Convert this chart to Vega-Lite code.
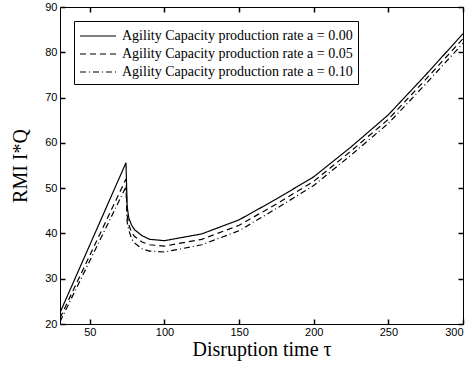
{
  "$schema": "https://vega.github.io/schema/vega-lite/v6.json",
  "width": 403,
  "height": 317,
  "padding": {"left": 60, "top": 7, "right": 10, "bottom": 44},
  "autosize": {"type": "none"},
  "background": "white",
  "config": {
    "view": {"stroke": "black", "strokeWidth": 1},
    "axis": {
      "domain": false,
      "ticks": true,
      "labelColor": "black",
      "titleColor": "black",
      "labelFont": "Liberation Sans",
      "labelFontSize": 11,
      "titleFont": "Liberation Serif",
      "titleFontSize": 20,
      "titleFontWeight": "normal",
      "grid": false
    },
    "axisTop": {"tickColor": "black", "tickWidth": 1.5, "tickSize": 5, "offset": -5},
    "axisBottom": {"tickColor": "black", "tickWidth": 1.5, "tickSize": 5, "offset": -5},
    "axisLeft": {"tickColor": "black", "tickWidth": 1.5, "tickSize": 5, "offset": -5},
    "axisRight": {"tickColor": "black", "tickWidth": 1.5, "tickSize": 5, "offset": -5},
    "legend": {
      "orient": "top-left",
      "offset": 14,
      "strokeColor": "black",
      "fillColor": "white",
      "padding": 5,
      "labelFont": "Liberation Serif",
      "labelFontSize": 14,
      "labelColor": "black",
      "symbolType": "M-1,0H3",
      "symbolStrokeColor": "black",
      "symbolStrokeWidth": 1.2,
      "symbolSize": 324,
      "labelOffset": 23,
      "rowPadding": 1,
      "labelLimit": 400
    }
  },
  "data": {
    "values": [
      {"t": 30, "v": 22.5, "s": "Agility Capacity production rate a = 0.00"},
      {"t": 74.2, "v": 55.6, "s": "Agility Capacity production rate a = 0.00"},
      {"t": 75, "v": 46.0, "s": "Agility Capacity production rate a = 0.00"},
      {"t": 76, "v": 43.5, "s": "Agility Capacity production rate a = 0.00"},
      {"t": 78, "v": 41.8, "s": "Agility Capacity production rate a = 0.00"},
      {"t": 80, "v": 40.8, "s": "Agility Capacity production rate a = 0.00"},
      {"t": 85, "v": 39.5, "s": "Agility Capacity production rate a = 0.00"},
      {"t": 90, "v": 38.7, "s": "Agility Capacity production rate a = 0.00"},
      {"t": 100, "v": 38.4, "s": "Agility Capacity production rate a = 0.00"},
      {"t": 125, "v": 39.9, "s": "Agility Capacity production rate a = 0.00"},
      {"t": 150, "v": 43.0, "s": "Agility Capacity production rate a = 0.00"},
      {"t": 175, "v": 47.6, "s": "Agility Capacity production rate a = 0.00"},
      {"t": 200, "v": 52.5, "s": "Agility Capacity production rate a = 0.00"},
      {"t": 225, "v": 59.1, "s": "Agility Capacity production rate a = 0.00"},
      {"t": 250, "v": 66.2, "s": "Agility Capacity production rate a = 0.00"},
      {"t": 275, "v": 75.0, "s": "Agility Capacity production rate a = 0.00"},
      {"t": 300, "v": 84.1, "s": "Agility Capacity production rate a = 0.00"},
      {"t": 30, "v": 21.3, "s": "Agility Capacity production rate a = 0.05"},
      {"t": 74.2, "v": 52.0, "s": "Agility Capacity production rate a = 0.05"},
      {"t": 75, "v": 44.0, "s": "Agility Capacity production rate a = 0.05"},
      {"t": 76, "v": 42.0, "s": "Agility Capacity production rate a = 0.05"},
      {"t": 78, "v": 40.2, "s": "Agility Capacity production rate a = 0.05"},
      {"t": 80, "v": 39.3, "s": "Agility Capacity production rate a = 0.05"},
      {"t": 85, "v": 38.1, "s": "Agility Capacity production rate a = 0.05"},
      {"t": 90, "v": 37.5, "s": "Agility Capacity production rate a = 0.05"},
      {"t": 100, "v": 37.2, "s": "Agility Capacity production rate a = 0.05"},
      {"t": 125, "v": 38.7, "s": "Agility Capacity production rate a = 0.05"},
      {"t": 150, "v": 41.8, "s": "Agility Capacity production rate a = 0.05"},
      {"t": 175, "v": 46.5, "s": "Agility Capacity production rate a = 0.05"},
      {"t": 200, "v": 51.5, "s": "Agility Capacity production rate a = 0.05"},
      {"t": 225, "v": 58.2, "s": "Agility Capacity production rate a = 0.05"},
      {"t": 250, "v": 65.2, "s": "Agility Capacity production rate a = 0.05"},
      {"t": 275, "v": 74.0, "s": "Agility Capacity production rate a = 0.05"},
      {"t": 300, "v": 83.0, "s": "Agility Capacity production rate a = 0.05"},
      {"t": 30, "v": 20.5, "s": "Agility Capacity production rate a = 0.10"},
      {"t": 74.2, "v": 50.3, "s": "Agility Capacity production rate a = 0.10"},
      {"t": 75, "v": 42.5, "s": "Agility Capacity production rate a = 0.10"},
      {"t": 76, "v": 40.8, "s": "Agility Capacity production rate a = 0.10"},
      {"t": 78, "v": 38.8, "s": "Agility Capacity production rate a = 0.10"},
      {"t": 80, "v": 37.9, "s": "Agility Capacity production rate a = 0.10"},
      {"t": 85, "v": 36.6, "s": "Agility Capacity production rate a = 0.10"},
      {"t": 90, "v": 36.1, "s": "Agility Capacity production rate a = 0.10"},
      {"t": 100, "v": 35.9, "s": "Agility Capacity production rate a = 0.10"},
      {"t": 125, "v": 37.5, "s": "Agility Capacity production rate a = 0.10"},
      {"t": 150, "v": 40.6, "s": "Agility Capacity production rate a = 0.10"},
      {"t": 175, "v": 45.5, "s": "Agility Capacity production rate a = 0.10"},
      {"t": 200, "v": 50.6, "s": "Agility Capacity production rate a = 0.10"},
      {"t": 225, "v": 57.3, "s": "Agility Capacity production rate a = 0.10"},
      {"t": 250, "v": 64.3, "s": "Agility Capacity production rate a = 0.10"},
      {"t": 275, "v": 73.0, "s": "Agility Capacity production rate a = 0.10"},
      {"t": 300, "v": 82.0, "s": "Agility Capacity production rate a = 0.10"}
    ]
  },
  "layer": [
    {
      "mark": {"type": "line", "color": "black", "strokeWidth": 1.2, "clip": true},
      "encoding": {
        "x": {"field": "t", "type": "quantitative", "scale": {"domain": [30, 300], "nice": false, "zero": false},
              "axis": {"values": [50, 100, 150, 200, 250, 300], "title": "Disruption time τ", "labelPadding": 2, "titlePadding": 2}},
        "y": {"field": "v", "type": "quantitative", "scale": {"domain": [20, 90], "nice": false, "zero": false},
              "axis": {"values": [20, 30, 40, 50, 60, 70, 80, 90], "title": "RMI I*Q", "labelPadding": 3, "titlePadding": 14}},
        "strokeDash": {"field": "s", "type": "nominal", "title": null,
              "scale": {"range": [[1, 0], [6, 4], [6, 3, 1, 3]]}},
        "detail": {"field": "s"}
      }
    },
    {
      "mark": {"type": "line", "opacity": 0},
      "encoding": {
        "x": {"field": "t", "type": "quantitative", "axis": {"orient": "top", "labels": false, "title": null, "values": [50, 100, 150, 200, 250, 300]}},
        "y": {"field": "v", "type": "quantitative", "axis": {"orient": "right", "labels": false, "title": null, "values": [20, 30, 40, 50, 60, 70, 80, 90]}},
        "detail": {"field": "s"}
      }
    }
  ],
  "resolve": {"axis": {"x": "independent", "y": "independent"}}
}
